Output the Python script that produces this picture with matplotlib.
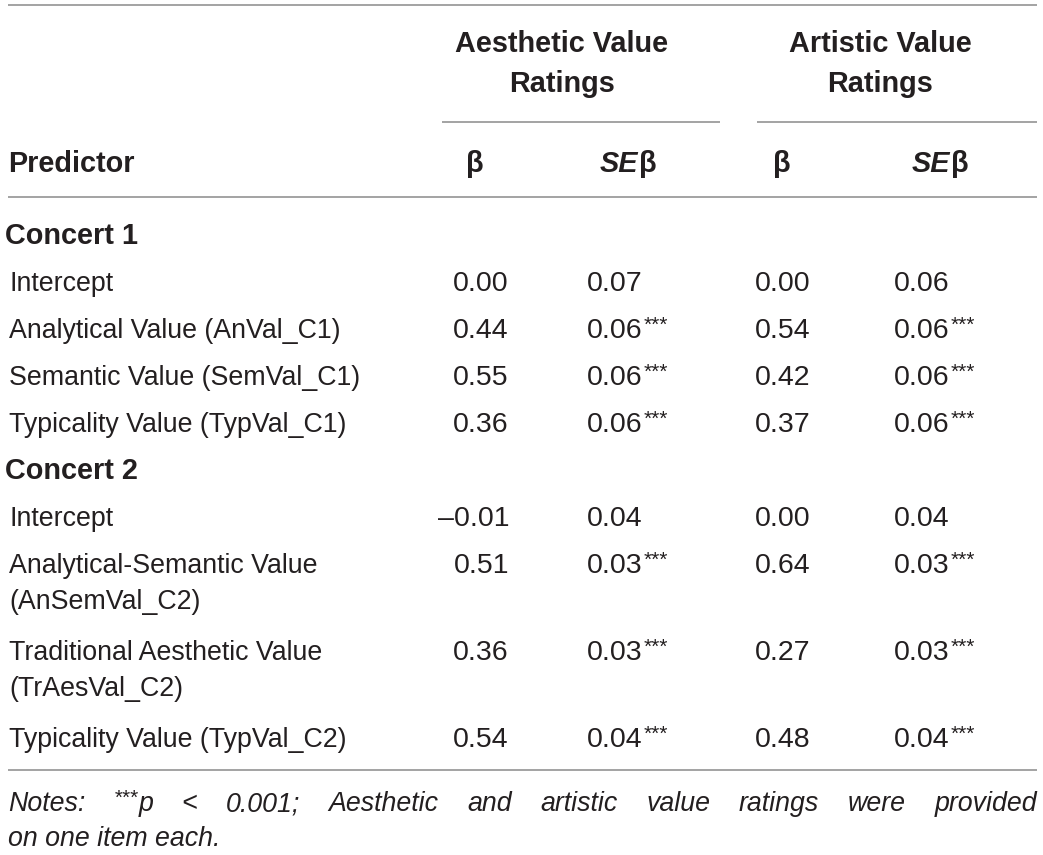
import matplotlib
matplotlib.use("Agg")
import matplotlib.pyplot as plt

W, H = 1043, 855
FONT = "Liberation Sans"
INK = "#231f20"
RULE = "#a3a3a3"
FS = 19.3       # labels
FS_NUM = 20.5   # numbers
FS_BOLD = 20.8
FS_SUP = 15

groups = ["Aesthetic Value", "Artistic Value"]
sections = ["Concert 1", "Concert 2"]
predictors = [
    ["Intercept", "Analytical Value (AnVal_C1)", "Semantic Value (SemVal_C1)",
     "Typicality Value (TypVal_C1)"],
    ["Intercept", "Analytical-Semantic Value\n(AnSemVal_C2)",
     "Traditional Aesthetic Value\n(TrAesVal_C2)", "Typicality Value (TypVal_C2)"],
]
aes_beta = [["0.00", "0.44", "0.55", "0.36"], ["\u20130.01", "0.51", "0.36", "0.54"]]
aes_se = [["0.07", "0.06", "0.06", "0.06"], ["0.04", "0.03", "0.03", "0.04"]]
art_beta = [["0.00", "0.54", "0.42", "0.37"], ["0.00", "0.64", "0.27", "0.48"]]
art_se = [["0.06", "0.06", "0.06", "0.06"], ["0.04", "0.03", "0.03", "0.04"]]
sig = [["", "***", "***", "***"], ["", "***", "***", "***"]]
note_line1 = "Notes: ***p < 0.001; Aesthetic and artistic value ratings were provided"
note_line2 = "on one item each."

fig = plt.figure(figsize=(W / 100, H / 100), dpi=100)
ax = fig.add_axes([0, 0, 1, 1])
ax.set_xlim(0, W)
ax.set_ylim(H, 0)
ax.axis("off")
renderer = fig.canvas.get_renderer()


def txt(x, y, s, **kw):
    opts = dict(fontsize=FS, family=FONT, color=INK, va="baseline")
    opts.update(kw)
    return ax.text(x, y, s, **opts)


def width(t):
    return t.get_window_extent(renderer).width


def rule(y, x0=8, x1=1037):
    ax.plot([x0, x1], [y, y], color=RULE, lw=1.4, solid_capstyle="butt")


# rules
rule(5)
rule(122, 442, 720)
rule(122, 757, 1037)
rule(197)
rule(770)

# header
group_x = [562, 880]
beta_x = [475, 782]
se_x = [628, 940]
for gx, g in zip(group_x, groups):
    txt(gx, 52, g, ha="center", fontweight="bold", fontsize=FS_BOLD)
    txt(gx, 92, "Ratings", ha="center", fontweight="bold", fontsize=FS_BOLD)
txt(8, 172, "Predictor", fontweight="bold", fontsize=FS_BOLD)
for bx, sx in zip(beta_x, se_x):
    txt(bx, 172, "\u03b2", ha="center", fontweight="bold", fontsize=FS_BOLD)
    t_se = txt(0, 172, "SE", fontweight="bold", style="italic", fontsize=FS_BOLD)
    t_b = txt(0, 172, "\u03b2", fontweight="bold", fontsize=FS_BOLD)
    w1, w2 = width(t_se), width(t_b)
    x0 = sx - (w1 + w2) / 2
    t_se.set_x(x0)
    t_b.set_x(x0 + w1 + 1)

# body
beta_right = [509, 810]
se_left = [587, 894]
y = 244
for si, sec in enumerate(sections):
    txt(5, y, sec, fontweight="bold", fontsize=FS_BOLD)
    y += 47
    for ri, name in enumerate(predictors[si]):
        lines = name.split("\n")
        for li, line in enumerate(lines):
            txt(9, y + li * 36, line)
        for col, (bvals, svals) in enumerate([(aes_beta, aes_se), (art_beta, art_se)]):
            txt(beta_right[col], y, bvals[si][ri], ha="right", fontsize=FS_NUM)
            t = txt(se_left[col], y, svals[si][ri], fontsize=FS_NUM)
            if sig[si][ri]:
                txt(se_left[col] + width(t) + 1, y - 7, sig[si][ri], fontsize=FS_SUP)
        y += 47 if len(lines) == 1 else 87

# notes, first line justified
words = note_line1.split(" ")
items = []
total = 0
for w in words:
    if w.startswith("***"):
        ts = txt(0, 811, "***", fontsize=FS_SUP, style="italic")
        tp = txt(0, 811, w[3:], style="italic")
        parts = [(ts, -7), (tp, 0)]
    else:
        parts = [(txt(0, 811, w, style="italic"), 0)]
    ww = sum(width(p) for p, _ in parts)
    items.append((parts, ww))
    total += ww
gap = (1037 - 8 - total) / (len(items) - 1)
x = 8
for parts, ww in items:
    xx = x
    for p, dy in parts:
        p.set_x(xx)
        p.set_y(811 + dy)
        xx += width(p)
    x += ww + gap
txt(8, 846, note_line2, style="italic")

fig.savefig("out.png", dpi=100, facecolor="white")
